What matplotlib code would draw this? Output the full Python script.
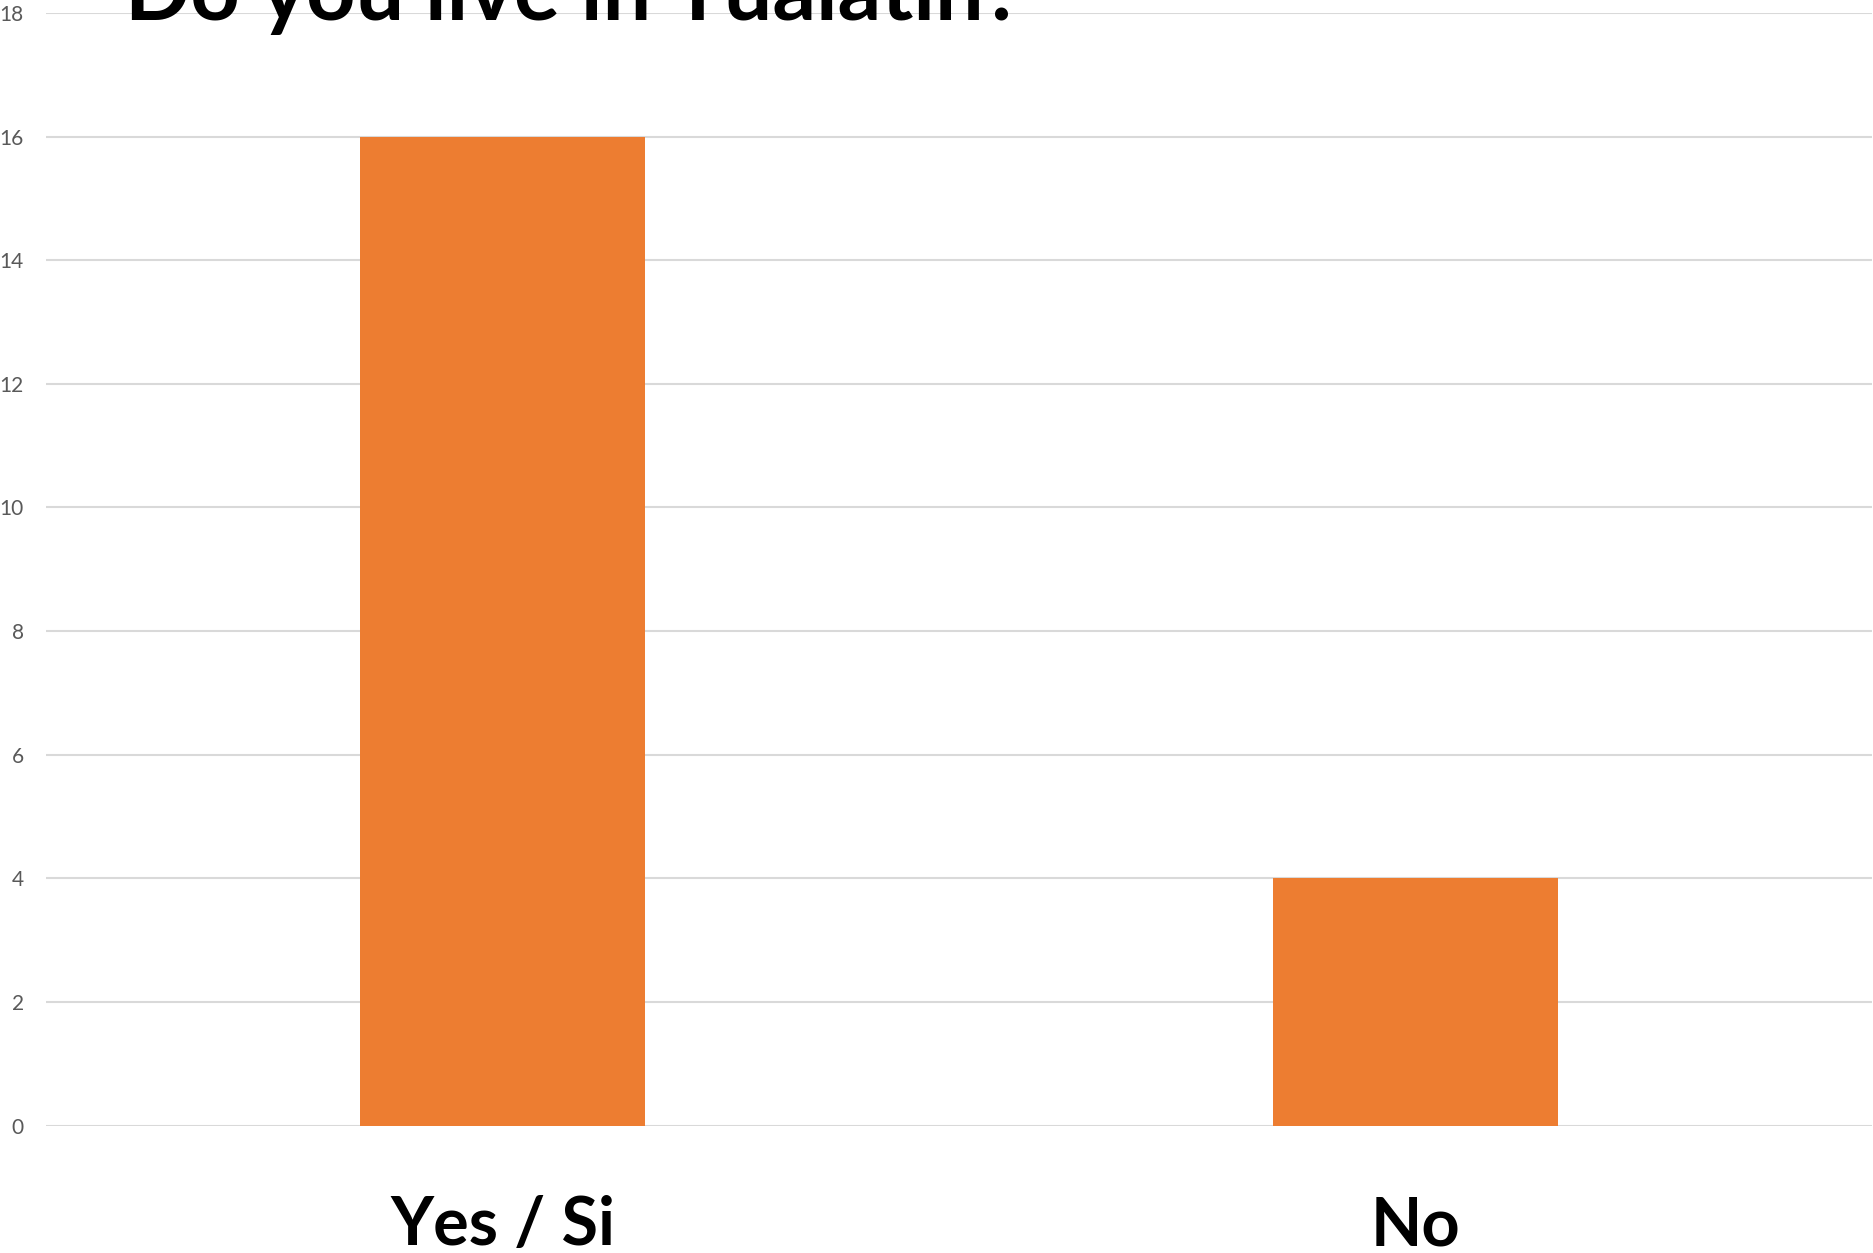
import matplotlib
matplotlib.use("Agg")
import matplotlib.pyplot as plt
import matplotlib.transforms as mtransforms

plt.rcParams['font.family'] = ['Lato', 'DejaVu Sans']

# ---------- data ----------
categories = ["Yes / Si", "No"]
counts = [16, 4]
yticks = [0, 2, 4, 6, 8, 10, 12, 14, 16, 18]
title = "Do you live in Tualatin?"

W, H, DPI = 1874, 1253, 100
fig = plt.figure(figsize=(W / DPI, H / DPI), dpi=DPI)
ax = fig.add_axes([46 / W, (H - 1125.5) / H, (1872 - 46) / W, (1125.5 - 13) / H])

x = list(range(len(categories)))
ax.bar(x, counts, width=0.313, color="#ED7D31", zorder=3)

ax.set_xlim(-0.5, len(categories) - 0.5)
ax.set_ylim(0, 18)
ax.set_yticks(yticks)
ax.set_yticklabels([str(t) for t in yticks], fontsize=15, color="#595959")
ax.tick_params(axis="y", length=0, pad=16)
ax.set_xticks([])
ax.grid(axis="y", color="#D9D9D9", linewidth=1.5, zorder=0)
for s in ax.spines.values():
    s.set_visible(False)

# category labels below the axis
trans = mtransforms.blended_transform_factory(ax.transData, fig.transFigure)
for xi, lab in zip(x, categories):
    ax.text(xi, (H - 1245) / H, lab, transform=trans, ha="center", va="baseline",
            fontsize=48, fontweight="bold", color="black", clip_on=False)

fig.text(125 / W, (H - 20) / H, title, ha="left", va="baseline",
         fontsize=62, fontweight="bold", color="black")

fig.savefig("out.png", dpi=DPI)
